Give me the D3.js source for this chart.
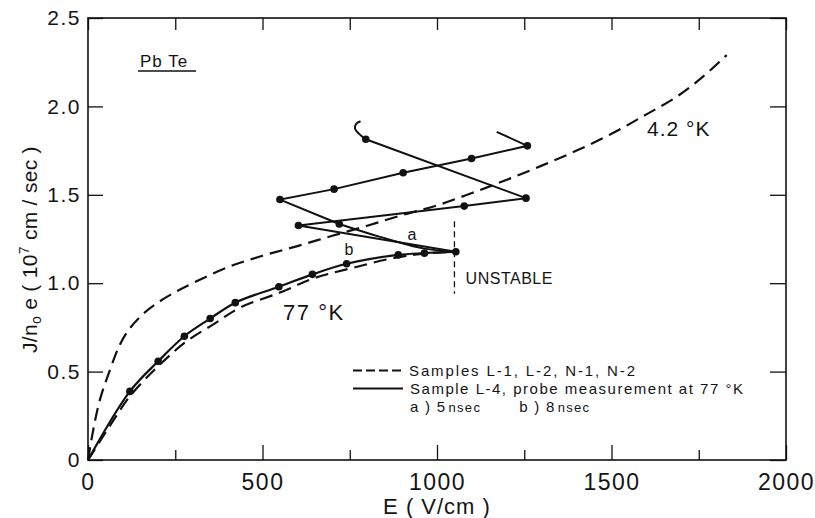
<!DOCTYPE html>
<html>
<head>
<meta charset="utf-8">
<script src="https://cdn.jsdelivr.net/npm/d3@7"></script>
<style>
  body { margin: 0; background: #fff; }
  svg { display: block; background: #fff; }
  text { font-family: "Liberation Sans", Arial, sans-serif; fill: #141414; }
</style>
</head>
<body>
<svg id="chart" width="815" height="518"></svg>
<script>
// Axis ticks
const xTicks = [0, 500, 1000, 1500, 2000];
const xMinorTicks = [250, 750, 1250, 1750];
const yTicks = [0, 0.5, 1.0, 1.5, 2.0, 2.5];
const yTickLabels = ["0", "0.5", "1.0", "1.5", "2.0", "2.5"];

// 4.2 °K, samples L-1, L-2, N-1, N-2 (dashed)
const e42 = [0, 15, 34, 63, 92, 120, 160, 200, 250, 300, 400, 500, 600, 700, 800, 900, 1000, 1100, 1200, 1300, 1400, 1500, 1600, 1687, 1763, 1830];
const j42 = [0, 0.17, 0.34, 0.51, 0.655, 0.745, 0.83, 0.89, 0.95, 1.00, 1.09, 1.155, 1.21, 1.268, 1.325, 1.385, 1.44, 1.51, 1.585, 1.665, 1.75, 1.845, 1.955, 2.055, 2.17, 2.29];

// 77 °K, samples L-1, L-2, N-1, N-2 (dashed)
const eS77 = [0, 60, 120, 206, 283, 359, 436, 550, 646, 751, 885, 980, 1054];
const jS77 = [0, 0.185, 0.36, 0.54, 0.672, 0.767, 0.862, 0.947, 1.027, 1.083, 1.146, 1.17, 1.178];

// Sample L-4, probe measurement at 77 °K (solid, with points)
const eL4 = [0, 120, 201, 276, 350, 422, 547, 643, 741, 889, 964, 1054];
const jL4 = [0, 0.388, 0.558, 0.70, 0.80, 0.89, 0.98, 1.05, 1.11, 1.16, 1.17, 1.178];

// a) 5 nsec branch: curved return, then zig-zag
const eA5curve = [1054, 961, 837, 720];
const jA5curve = [1.178, 1.197, 1.262, 1.335];
const eA5 = [720, 550, 705, 903, 1099, 1259, 1171];
const jA5 = [1.335, 1.473, 1.532, 1.625, 1.705, 1.777, 1.856];

// b) 8 nsec branch
const eB8 = [1054, 603, 1078, 1255, 796];
const jB8 = [1.178, 1.326, 1.436, 1.481, 1.814];
const eB8hook = [796, 776, 765, 768, 781];
const jB8hook = [1.814, 1.846, 1.875, 1.9, 1.916];

// Instability marker
const unstableE = 1050;
const unstableJ = [0.94, 1.35];

const svg = d3.select("#chart");
const x = d3.scaleLinear().domain([0, 2000]).range([88, 786]);
const y = d3.scaleLinear().domain([0, 2.5]).range([460, 18]);

// Frame
svg.append("rect")
  .attr("x", x(0)).attr("y", y(2.5))
  .attr("width", x(2000) - x(0)).attr("height", y(0) - y(2.5))
  .attr("fill", "none").attr("stroke", "#111").attr("stroke-width", 1.6);

function styleAxis(g) {
  g.select(".domain").remove();
  g.selectAll(".tick line").attr("stroke", "#111").attr("stroke-width", 1.3);
}

// Bottom axis (major with labels, minor without)
svg.append("g").attr("transform", `translate(0,${y(0)})`)
  .call(d3.axisBottom(x).tickValues(xTicks).tickFormat(d3.format("d"))
    .tickSizeInner(-15).tickSizeOuter(0).tickPadding(14))
  .call(styleAxis)
  .call(g => g.selectAll("text").attr("font-size", 23).attr("fill", "#141414")
    .style("font-family", "'Liberation Sans', Arial, sans-serif").attr("letter-spacing", 1.5));
svg.append("g").attr("transform", `translate(0,${y(0)})`)
  .call(d3.axisBottom(x).tickValues(xMinorTicks).tickFormat("").tickSizeInner(-10).tickSizeOuter(0))
  .call(styleAxis);

// Top axis ticks
svg.append("g").attr("transform", `translate(0,${y(2.5)})`)
  .call(d3.axisTop(x).tickValues(xTicks.concat(xMinorTicks)).tickFormat("").tickSizeInner(-12).tickSizeOuter(0))
  .call(styleAxis);

// Left axis
svg.append("g").attr("transform", `translate(${x(0)},0)`)
  .call(d3.axisLeft(y).tickValues(yTicks).tickFormat((d, i) => yTickLabels[i])
    .tickSizeInner(-15).tickSizeOuter(0).tickPadding(7))
  .call(styleAxis)
  .call(g => g.selectAll("text").attr("font-size", 21).attr("fill", "#141414")
    .style("font-family", "'Liberation Sans', Arial, sans-serif").attr("letter-spacing", 1.5));

// Right axis ticks
svg.append("g").attr("transform", `translate(${x(2000)},0)`)
  .call(d3.axisRight(y).tickValues(yTicks).tickFormat("").tickSizeInner(-16).tickSizeOuter(0))
  .call(styleAxis);

// Axis titles
svg.append("text")
  .attr("x", 437).attr("y", 514)
  .attr("text-anchor", "middle").attr("font-size", 22).attr("letter-spacing", 1)
  .text("E ( V/cm )");

const yTitle = svg.append("text")
  .attr("transform", "translate(37,353) rotate(-90)")
  .attr("text-anchor", "start").attr("font-size", 21).attr("letter-spacing", 0.3);
yTitle.append("tspan").text("J/n");
yTitle.append("tspan").attr("font-size", 14).attr("dy", 4).text("o");
yTitle.append("tspan").attr("dy", -4).text(" e ( 10");
yTitle.append("tspan").attr("font-size", 14).attr("dy", -8).text("7");
yTitle.append("tspan").attr("dy", 8).text(" cm / sec )");

// Line helpers
const zip = (es, js) => es.map((e, i) => [e, js[i]]);
const lineLinear = d3.line().x(d => x(d[0])).y(d => y(d[1]));
const lineSmooth = d3.line().x(d => x(d[0])).y(d => y(d[1])).curve(d3.curveCatmullRom.alpha(0.5));

const dash = "13,7";

// 4.2 °K dashed
svg.append("path").attr("d", lineSmooth(zip(e42, j42)))
  .attr("fill", "none").attr("stroke", "#111").attr("stroke-width", 2.2).attr("stroke-dasharray", dash);

// 77 °K dashed
svg.append("path").attr("d", lineSmooth(zip(eS77, jS77)))
  .attr("fill", "none").attr("stroke", "#111").attr("stroke-width", 2.2).attr("stroke-dasharray", dash);

// Sample L-4 solid curve
svg.append("path").attr("d", lineSmooth(zip(eL4, jL4)))
  .attr("fill", "none").attr("stroke", "#111").attr("stroke-width", 2.2);

// a) 5 nsec
svg.append("path").attr("d", lineSmooth(zip(eA5curve, jA5curve)))
  .attr("fill", "none").attr("stroke", "#111").attr("stroke-width", 2);
svg.append("path").attr("d", lineLinear(zip(eA5, jA5)))
  .attr("fill", "none").attr("stroke", "#111").attr("stroke-width", 2);

// b) 8 nsec
svg.append("path").attr("d", lineLinear(zip(eB8, jB8)))
  .attr("fill", "none").attr("stroke", "#111").attr("stroke-width", 2);
svg.append("path").attr("d", lineSmooth(zip(eB8hook, jB8hook)))
  .attr("fill", "none").attr("stroke", "#111").attr("stroke-width", 2);

// Instability marker
svg.append("line")
  .attr("x1", x(unstableE)).attr("x2", x(unstableE))
  .attr("y1", y(unstableJ[1])).attr("y2", y(unstableJ[0]))
  .attr("stroke", "#111").attr("stroke-width", 1.3).attr("stroke-dasharray", "6,4");

// Data points
const dots = zip(eL4.slice(1), jL4.slice(1))
  .concat(zip(eA5.slice(0, 6), jA5.slice(0, 6)))
  .concat(zip(eB8.slice(1), jB8.slice(1)));
svg.append("g").selectAll("circle").data(dots).join("circle")
  .attr("cx", d => x(d[0])).attr("cy", d => y(d[1])).attr("r", 3.8).attr("fill", "#111");

// Annotations
svg.append("text").attr("x", x(1602)).attr("y", y(1.83)).attr("font-size", 21).attr("letter-spacing", 1).text("4.2 °K");
svg.append("text").attr("x", x(559)).attr("y", y(0.79)).attr("font-size", 22).attr("letter-spacing", 1.5).text("77 °K");
svg.append("text").attr("x", x(1082)).attr("y", y(0.997)).attr("font-size", 16).attr("letter-spacing", 0.5).text("UNSTABLE");
svg.append("text").attr("x", x(928)).attr("y", y(1.245)).attr("text-anchor", "middle").attr("font-size", 16).text("a");
svg.append("text").attr("x", x(748)).attr("y", y(1.16)).attr("text-anchor", "middle").attr("font-size", 16).text("b");

// Material label
svg.append("text").attr("x", 140).attr("y", 67).attr("font-size", 17).attr("letter-spacing", 1).text("Pb Te");
svg.append("line").attr("x1", 138).attr("x2", 196).attr("y1", 71).attr("y2", 71)
  .attr("stroke", "#111").attr("stroke-width", 1.6);

// Legend
const legend = svg.append("g");
legend.append("line").attr("x1", 353).attr("x2", 403).attr("y1", 370.5).attr("y2", 370.5)
  .attr("stroke", "#111").attr("stroke-width", 2.2).attr("stroke-dasharray", "9,4");
legend.append("text").attr("x", 409).attr("y", 375.5).attr("font-size", 15)
  .attr("textLength", 226).attr("lengthAdjust", "spacing")
  .text("Samples L-1, L-2, N-1, N-2");
legend.append("line").attr("x1", 353).attr("x2", 403).attr("y1", 388.5).attr("y2", 388.5)
  .attr("stroke", "#111").attr("stroke-width", 1.8);
legend.append("text").attr("x", 410).attr("y", 393.5).attr("font-size", 15)
  .attr("textLength", 333).attr("lengthAdjust", "spacing")
  .text("Sample L-4, probe measurement at 77 °K");
const sub = legend.append("text").attr("x", 410).attr("y", 411.5).attr("font-size", 15).attr("letter-spacing", 1.3);
sub.append("tspan").text("a ) 5");
sub.append("tspan").attr("font-size", 13).attr("dx", 2).text("nsec");
sub.append("tspan").attr("dx", 38).text("b ) 8");
sub.append("tspan").attr("font-size", 13).attr("dx", 2).text("nsec");
</script>
</body>
</html>
